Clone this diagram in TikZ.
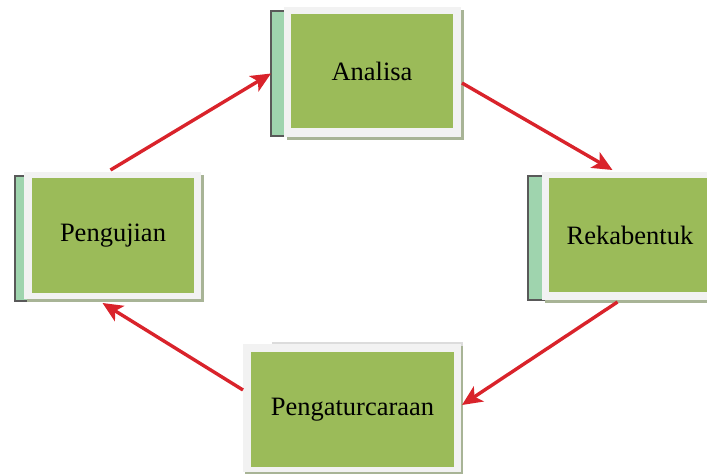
\documentclass[tikz,border=0pt]{standalone}
\usepackage{fontspec}
\setmainfont{Liberation Serif}
\usetikzlibrary{arrows.meta}
\definecolor{boxgreen}{HTML}{9BBB59}
\definecolor{cardteal}{HTML}{9FD4AE}
\definecolor{framegray}{HTML}{F2F2F2}
\definecolor{shadegray}{HTML}{A8B496}
\definecolor{backgray}{HTML}{DCDCDC}
\definecolor{arrowred}{HTML}{D9232B}
\tikzset{
  base/.style={rectangle, inner sep=0pt, outer sep=0pt, draw=none},
  card/.style={base, draw=black!65, line width=1.3pt, fill=cardteal},
  backcard/.style={base, fill=backgray},
  shadowbox/.style={base, fill=shadegray},
  framebox/.style={base, fill=framegray},
  innerbox/.style={base, fill=boxgreen, font=\fontsize{26.5}{30}\selectfont},
  flow/.style={arrowred, line width=3.4pt, -{Stealth[length=20pt,width=18pt,inset=5pt]}}
}
\begin{document}
\begin{tikzpicture}[x=1pt,y=-1pt]
\useasboundingbox (0,0) rectangle (707,474);
\clip (0,0) rectangle (707,474);
% Analisa
\node[card, minimum width=170pt, minimum height=125pt] (anaC) at (356,73.5) {};
\node[shadowbox, minimum width=177pt, minimum height=130pt] (anaS) at (375.5,75) {};
\node[framebox, minimum width=177pt, minimum height=130pt] (anaF) at (372.5,72) {};
\node[innerbox, minimum width=162pt, minimum height=114pt] (ana) at (372,71) {Analisa};
% Pengujian
\node[card, minimum width=170pt, minimum height=125pt] (penC) at (100,238.5) {};
\node[shadowbox, minimum width=177pt, minimum height=127pt] (penS) at (115.5,238.5) {};
\node[framebox, minimum width=177pt, minimum height=127pt] (penF) at (112.5,235.5) {};
\node[innerbox, minimum width=162pt, minimum height=115pt] (pen) at (113,235.5) {Pengujian};
% Rekabentuk
\node[card, minimum width=170pt, minimum height=124pt] (rekC) at (613,238) {};
\node[shadowbox, minimum width=177pt, minimum height=128pt] (rekS) at (633.5,239) {};
\node[framebox, minimum width=177pt, minimum height=128pt] (rekF) at (630.5,236) {};
\node[innerbox, minimum width=162pt, minimum height=114pt] (rek) at (630,235) {Rekabentuk};
% Pengaturcaraan
\node[backcard, minimum width=191pt, minimum height=132pt] (pngC) at (367.5,408) {};
\node[shadowbox, minimum width=218pt, minimum height=128pt] (pngS) at (354,410) {};
\node[framebox, minimum width=218pt, minimum height=128pt] (pngF) at (352,408) {};
\node[innerbox, minimum width=203pt, minimum height=115pt] (png) at (352.5,409.5) {Pengaturcaraan};
% connectors
\draw[flow] ([xshift=-2pt,yshift=2pt]penF.north) -- (anaC.west);
\draw[flow] ([xshift=1pt,yshift=-11pt]anaF.east) -- ([xshift=-18pt,yshift=2pt]rekF.north);
\draw[flow] ([xshift=-13pt,yshift=-2pt]rekF.south) -- ([xshift=1pt,yshift=3pt]pngF.east);
\draw[flow] ([yshift=18pt]pngF.west) -- ([xshift=-10pt,yshift=-4pt]penF.south);
\end{tikzpicture}
\end{document}
